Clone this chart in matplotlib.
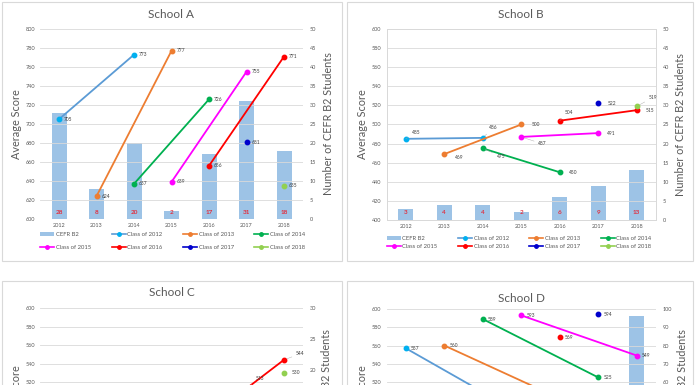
import matplotlib
matplotlib.use("Agg")
import matplotlib.pyplot as plt
from matplotlib.lines import Line2D
from matplotlib.patches import Patch, Rectangle
import numpy as np

plt.rcParams['font.family'] = ['Lato', 'DejaVu Sans']

W, H = 696, 385
years = ['2012', '2013', '2014', '2015', '2016', '2017', '2018']
class_names = ['Class of 2012', 'Class of 2013', 'Class of 2014', 'Class of 2015',
               'Class of 2016', 'Class of 2017', 'Class of 2018']
line_colors = ['#5B9BD5', '#ED7D31', '#00B050', '#FF00FF', '#FF0000', '#0000CC', '#92D050']
marker_colors = ['#00B0F0', '#ED7D31', '#00B050', '#FF00FF', '#FF0000', '#0000CC', '#92D050']
bar_color = '#9DC3E6'
txt = '#595959'

# ---- School A ----
a_bars = [28, 8, 20, 2, 17, 31, 18]
a_classes = {
    'Class of 2012': ([0, 2], [705, 773]),
    'Class of 2013': ([1, 3], [624, 777]),
    'Class of 2014': ([2, 4], [637, 726]),
    'Class of 2015': ([3, 5], [639, 755]),
    'Class of 2016': ([4, 6], [656, 771]),
    'Class of 2017': ([5], [681]),
    'Class of 2018': ([6], [635]),
}
# ---- School B ----
b_bars = [3, 4, 4, 2, 6, 9, 13]
b_classes = {
    'Class of 2012': ([0, 2], [485, 486]),
    'Class of 2013': ([1, 3], [469, 500]),
    'Class of 2014': ([2, 4], [475, 450]),
    'Class of 2015': ([3, 5], [487, 491]),
    'Class of 2016': ([4, 6], [504, 515]),
    'Class of 2017': ([5], [522]),
    'Class of 2018': ([6], [519]),
}
# label offsets (px) for School B labels, per class, per point
b_offsets = {
    'Class of 2012': [(6, -6), (6, -10)],
    'Class of 2013': [(11, 3), (10, 0)],
    'Class of 2014': [(14, 8), (9, 0)],
    'Class of 2015': [(17, 7), (9, 0)],
    'Class of 2016': [(4.5, -8), (9, 0)],
    'Class of 2017': [(9, 0)],
    'Class of 2018': [(12, -9)],
}
# ---- School C (visible part) ----
c_bars = [np.nan] * 7
c_classes = {
    'Class of 2016': ([5, 6], [513, 544]),
    'Class of 2018': ([6], [530]),
}
c_offsets = {'Class of 2016': [(9, -10), (12, -6)], 'Class of 2018': [(8, 0)]}
# ---- School D (visible part) ----
d_bars = [np.nan, np.nan, np.nan, np.nan, np.nan, np.nan, 96]
d_classes = {
    'Class of 2012': ([0, 3], [557, 485]),
    'Class of 2013': ([1, 4], [560, 502]),
    'Class of 2014': ([2, 5], [589, 525]),
    'Class of 2015': ([3, 6], [593, 549]),
    'Class of 2016': ([4], [569]),
    'Class of 2017': ([5], [594]),
}

fig = plt.figure(figsize=(W / 100, H / 100), dpi=100)
fig.patch.set_facecolor('white')


def rect(x0, y0, x1, y1):
    return [x0 / W, 1 - y1 / H, (x1 - x0) / W, (y1 - y0) / H]


def px2pt(p):
    return p * 72 / 100


def frame(x0, y0, x1, y1):
    fig.add_artist(Rectangle((x0 / W, 1 - y1 / H), (x1 - x0) / W, (y1 - y0) / H,
                             transform=fig.transFigure, fill=False,
                             edgecolor='#D9D9D9', lw=0.8))


def panel(box, title, title_y, ylim, rlim, rstep, bars, classes, offsets=None,
          ylab_x=(17, 328), border=False, legend_rows=None, lstep=20,
          show_xlabels=True, label_min=None, lmin=None, rmin=None):
    x0, y0, x1, y1 = box
    ax = fig.add_axes(rect(*box))
    ax2 = ax.twinx()
    ax.set_zorder(ax2.get_zorder() + 1)
    ax.patch.set_visible(False)
    xs = np.arange(len(years))
    ax2.bar(xs, bars, width=0.4, color=bar_color, zorder=1)
    if show_xlabels:
        for i, v in enumerate(bars):
            if not np.isnan(v):
                ax2.annotate(f'{v}', xy=(i, 0), xytext=(0, px2pt(7)),
                             textcoords='offset points', ha='center', va='center',
                             fontsize=4.6, fontweight='bold', color='#E03040')
    for k, name in enumerate(class_names):
        if name not in classes:
            continue
        idx, vals = classes[name]
        ax.plot(idx, vals, color=line_colors[k], lw=1.3, marker='o', markersize=3.2,
                markerfacecolor=marker_colors[k], markeredgecolor=marker_colors[k], zorder=3)
        offs = offsets.get(name) if offsets else None
        for j, (xi, v) in enumerate(zip(idx, vals)):
            if label_min is not None and v < label_min:
                continue
            dx, dy = offs[j] if offs else (5, 0)
            lead = abs(dy) > 4 or dx > 12
            ax.annotate(f'{v}', xy=(xi, v), xytext=(px2pt(dx), px2pt(-dy)),
                        textcoords='offset points', ha='left', va='center',
                        fontsize=3.5, color='#404040',
                        arrowprops=dict(arrowstyle='-', color='#A6A6A6', lw=0.3,
                                        shrinkA=1, shrinkB=2) if lead else None,
                        zorder=4)
    ax.set_xlim(-0.5, len(years) - 0.5)
    ax.set_ylim(*ylim)
    lt = np.arange(ylim[0], ylim[1] + 1, lstep)
    ax.set_yticks(lt)
    ax.set_yticklabels([f'{t}' if (lmin is None or t >= lmin) else '' for t in lt])
    ax2.set_ylim(*rlim)
    rt = np.arange(rlim[0], rlim[1] + 1, rstep)
    ax2.set_yticks(rt)
    ax2.set_yticklabels([f'{t}' if (rmin is None or t >= rmin) else '' for t in rt])
    ax.set_xticks(xs)
    if show_xlabels:
        ax.set_xticklabels(years)
    else:
        ax.set_xticklabels([])
    ax.yaxis.grid(True, color='#D9D9D9', lw=0.6)
    ax.set_axisbelow(True)
    for a in (ax, ax2):
        for s in a.spines.values():
            s.set_visible(border)
            s.set_color('#D9D9D9')
            s.set_linewidth(0.6)
    ax.tick_params(axis='y', length=0, pad=px2pt(5), labelsize=4, labelcolor=txt)
    ax.tick_params(axis='x', length=0, pad=px2pt(4), labelsize=4, labelcolor=txt)
    ax2.tick_params(axis='y', length=0, pad=px2pt(7), labelsize=4, labelcolor=txt)
    cx = (x0 + x1) / 2
    cy = (y0 + y1) / 2
    fig.text(cx / W, 1 - title_y / H, title, ha='center', va='center', fontsize=8.5, color=txt)
    fig.text(ylab_x[0] / W, 1 - cy / H, 'Average Score', rotation=90, ha='center',
             va='center', fontsize=7.8, color=txt)
    fig.text(ylab_x[1] / W, 1 - cy / H, 'Number of CEFR B2 Students', rotation=90,
             ha='center', va='center', fontsize=7.8, color=txt)
    if legend_rows:
        ly, gap = legend_rows
        handles = [Patch(facecolor=bar_color, edgecolor='none')]
        for k in range(7):
            handles.append(Line2D([0], [0], color=line_colors[k], lw=1.2, marker='o',
                                  markersize=2.5, markerfacecolor=marker_colors[k],
                                  markeredgecolor=marker_colors[k]))
        labels = ['CEFR B2'] + class_names
        order = [0, 4, 1, 5, 2, 6, 3, 7]
        fs = 4.2
        hpx = fs * 100 / 72
        fig.legend([handles[i] for i in order], [labels[i] for i in order], ncol=4,
                   loc='upper left', bbox_to_anchor=(x0 / W, 1 - (ly - hpx / 2 - 0.5) / H),
                   frameon=False, fontsize=fs, labelcolor=txt, borderpad=0, borderaxespad=0,
                   handlelength=2.4, handleheight=0.7, handletextpad=0.3,
                   columnspacing=3.5, labelspacing=(gap - hpx) / hpx)
    return ax, ax2


frame(1.5, 1.5, 342, 260.5)
frame(347, 1.5, 693, 260.5)
frame(1.5, 281, 342, 600)
frame(347, 281, 693, 600)

panel((40.25, 29, 302.75, 219), 'School A', 14, (600, 800), (0, 50), 5, a_bars, a_classes,
      ylab_x=(17, 328), legend_rows=(235, 14))
panel((386.5, 29, 656, 220), 'School B', 14, (400, 600), (0, 50), 5, b_bars, b_classes,
      offsets=b_offsets, ylab_x=(363, 680), border=True, legend_rows=(239, 9))
panel((40.25, 308, 302.75, 493), 'School C', 293, (400, 600), (0, 30), 5, c_bars, c_classes,
      offsets=c_offsets, ylab_x=(16, 327), show_xlabels=False, lmin=520, rmin=20)
panel((386.5, 309, 656, 491.5), 'School D', 299, (400, 600), (0, 100), 10, d_bars, d_classes,
      ylab_x=(363, 682), show_xlabels=False, label_min=518, lmin=520, rmin=60)

fig.savefig('out.png', dpi=100, facecolor='white')
